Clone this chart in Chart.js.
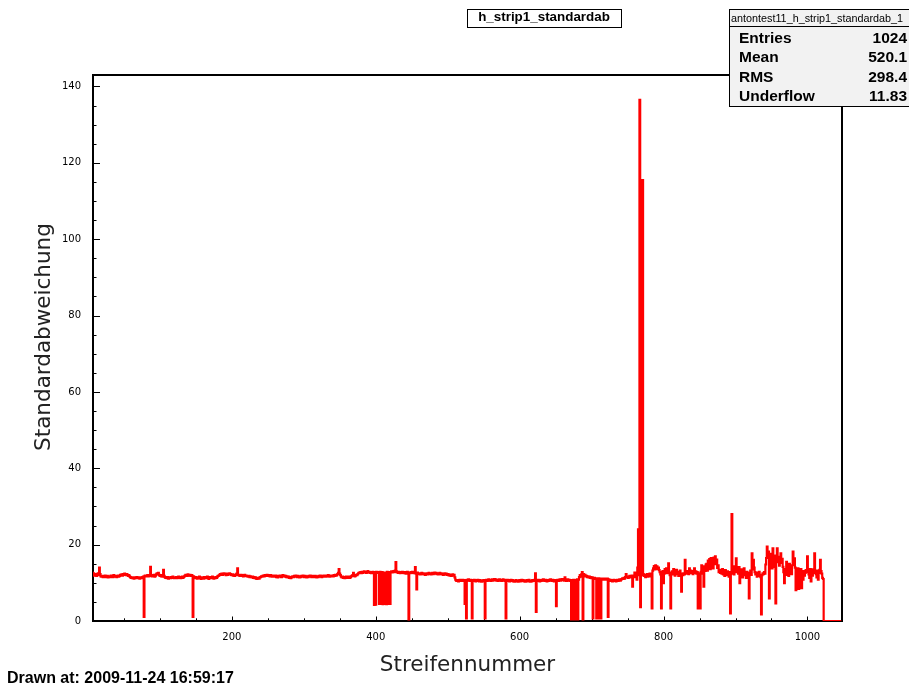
<!DOCTYPE html>
<html>
<head>
<meta charset="utf-8">
<script src="https://cdn.jsdelivr.net/npm/chart.js@4.4.1/dist/chart.umd.min.js"></script>
<style>
  html, body { margin: 0; padding: 0; background: #fff; }
  canvas { display: block; }
</style>
</head>
<body>
<canvas id="myChart" width="909" height="686"></canvas>
<script>
// Standardabweichung per strip (bin 0 .. 1047)
var values = [
 12.4,12.6,12.2,12.8,12.5,12.3,12.7,12.1,12.5,11.9,12.3,12.0,11.8,12.2,12.5,12.0,14.0,12.3,11.7,11.6,
 11.8,11.5,11.7,11.6,11.9,11.5,11.7,11.8,11.4,11.6,11.7,11.5,11.9,11.6,11.8,11.5,12.0,11.7,11.6,11.8,
 11.5,11.7,11.9,11.6,11.8,12.1,12.0,12.2,11.9,12.3,12.1,12.4,12.2,12.0,12.3,12.1,11.8,12.0,11.7,11.5,
 11.3,11.4,11.2,11.3,11.1,11.4,11.2,11.3,11.5,11.2,11.4,11.3,11.1,11.3,11.4,11.2,11.5,11.6,1.1,11.8,
 11.9,11.7,11.8,12.0,11.7,11.9,11.8,14.2,11.9,11.7,12.0,11.8,12.1,11.6,11.9,12.2,12.5,12.4,12.6,12.1,
 11.8,12.0,11.7,11.9,11.6,13.4,11.8,11.5,11.3,11.4,11.2,11.5,11.1,11.3,11.4,11.2,11.5,11.3,11.6,11.4,
 11.2,11.4,11.3,11.5,11.2,11.4,11.6,11.3,11.5,11.2,11.4,11.6,11.3,11.5,11.7,11.9,12.1,12.0,11.8,12.2,
 12.0,11.9,12.1,11.8,12.0,11.9,1.1,11.7,11.4,11.2,11.5,11.3,11.1,11.4,11.2,11.6,11.3,11.0,11.2,11.4,
 11.3,11.1,11.5,11.2,11.4,11.3,11.6,11.2,11.0,11.3,11.5,11.2,11.4,11.6,11.3,11.1,11.4,11.2,11.5,11.3,
 11.6,11.8,11.9,12.1,12.3,12.2,12.4,12.1,12.3,12.5,12.2,12.4,12.0,12.3,12.1,12.4,12.2,12.5,12.3,12.1,
 12.0,12.2,11.9,12.1,11.8,12.0,12.2,12.4,13.8,12.1,11.9,12.0,11.8,12.1,11.9,12.0,11.7,11.9,12.1,11.8,
 11.9,11.7,11.8,11.6,11.8,11.5,11.7,11.6,11.4,11.6,11.3,11.5,11.2,11.4,11.1,11.0,11.2,11.3,11.1,11.4,
 11.5,11.7,11.6,11.8,11.9,11.7,12.0,11.8,11.9,12.1,11.8,12.0,11.9,11.7,12.0,11.8,11.6,11.9,11.7,11.8,
 11.6,11.9,11.5,11.7,11.4,11.8,11.6,11.9,11.7,11.5,11.8,12.0,11.7,11.9,11.6,11.8,11.5,11.7,11.4,11.6,
 11.3,11.5,11.2,11.4,11.6,11.7,11.5,11.8,11.6,11.9,11.7,11.5,11.8,11.6,11.4,11.7,11.5,11.8,11.6,11.9,
 11.7,11.5,11.8,11.6,11.4,11.7,11.5,11.8,11.6,11.9,11.7,11.5,11.8,11.6,11.7,11.5,11.8,11.6,11.4,11.7,
 11.5,11.8,11.6,11.9,11.7,11.5,11.8,11.6,11.9,11.7,11.8,11.6,11.9,11.7,12.0,11.8,11.6,11.9,11.7,11.8,
 11.9,11.7,12.0,11.8,12.1,11.9,12.0,12.3,12.6,13.6,12.4,12.0,11.6,11.4,11.6,11.3,11.5,11.2,11.4,11.6,
 11.3,11.5,11.4,11.6,11.3,11.5,11.7,11.8,12.0,12.6,11.9,11.7,11.9,12.1,12.0,12.3,12.5,12.7,12.6,12.8,
 12.5,12.9,12.6,12.8,13.0,12.7,12.9,12.6,12.8,13.1,12.7,12.9,12.6,12.8,12.5,12.7,12.9,12.6,4.2,12.8,
 4.3,12.9,12.6,12.8,12.7,4.5,12.9,4.6,4.5,12.8,4.4,4.6,12.7,4.5,4.6,4.4,12.9,4.5,4.6,12.8,
 4.5,12.8,13.0,12.7,12.9,13.1,12.8,13.2,15.4,13.0,12.8,12.6,12.9,12.7,12.5,12.8,12.6,12.9,12.7,12.5,
 12.8,12.6,12.4,12.7,12.9,12.6,0.4,12.7,12.5,12.8,12.6,12.9,12.7,12.5,12.6,14.1,12.4,8.3,12.7,12.5,
 12.3,12.5,12.2,12.4,12.6,12.3,12.5,12.2,12.4,12.1,12.3,12.5,12.2,12.4,12.6,12.3,12.5,12.2,12.4,12.6,
 12.3,12.5,12.7,12.4,12.6,12.3,12.5,12.2,12.4,12.6,12.3,12.5,12.2,12.4,12.1,12.3,12.5,12.2,12.4,12.1,
 12.3,12.0,12.2,11.9,12.1,11.8,12.0,12.2,11.9,12.1,11.4,10.8,10.6,10.5,10.7,10.4,10.6,10.8,10.5,10.7,
 10.6,10.8,10.5,10.7,4.5,10.6,0.7,10.8,10.6,10.9,10.7,10.5,10.8,10.6,0.7,10.7,10.5,10.8,10.6,10.4,
 10.7,10.5,10.8,10.6,10.4,10.7,10.5,10.3,10.6,10.4,10.7,10.5,0.7,10.6,10.8,10.5,10.7,10.9,10.6,10.8,
 10.5,10.7,10.9,10.6,10.8,11.0,10.7,10.9,10.6,10.8,10.5,10.7,10.9,10.6,10.8,10.5,10.7,10.9,10.6,10.8,
 10.5,0.7,10.6,10.8,10.5,10.7,10.4,10.6,10.8,10.5,10.7,10.4,10.6,10.3,10.5,10.7,10.4,10.6,10.3,10.5,
 10.7,10.4,10.6,10.8,10.5,10.7,10.4,10.6,10.3,10.5,10.7,10.4,10.6,10.8,10.5,10.3,10.6,10.4,10.7,10.5,
 10.6,10.8,12.5,2.4,10.7,10.5,10.8,10.6,10.4,10.7,10.5,10.8,10.6,10.9,10.7,10.5,10.8,10.6,10.4,10.7,
 10.5,10.8,10.6,10.9,10.7,10.5,10.8,10.6,10.4,10.7,10.5,3.9,10.6,10.8,10.5,10.7,10.9,10.6,10.8,11.0,
 10.7,10.9,10.6,11.4,10.8,10.5,10.7,10.9,10.6,10.8,10.5,10.7,0.4,10.6,0.4,10.8,0.4,0.4,10.7,0.4,
 10.9,0.4,10.8,11.5,12.0,11.6,12.2,12.8,0.4,12.3,11.9,12.1,11.7,11.8,11.5,11.7,11.4,11.6,11.3,11.5,
 11.2,11.4,0.7,11.1,11.3,11.0,11.2,0.7,11.1,10.9,11.2,0.7,11.0,0.7,11.1,10.8,11.0,10.9,11.1,10.8,
 11.0,10.8,11.1,1.1,10.9,10.6,10.8,10.5,10.7,10.4,10.6,10.8,10.5,10.7,10.4,10.6,10.8,10.5,10.7,10.9,
 10.6,10.8,11.0,11.2,11.0,11.3,11.1,11.5,12.3,11.4,11.6,11.3,11.5,11.8,11.4,11.6,11.9,9.0,11.5,11.8,
 12.7,11.5,12.0,10.8,14.0,24.0,12.0,136.5,3.6,12.0,115.5,115.5,12.3,11.8,12.0,11.5,11.8,12.3,11.6,12.1,
 11.9,12.4,11.7,12.2,3.3,13.2,13.8,14.4,13.5,14.6,13.9,14.3,13.6,14.0,13.3,12.8,12.2,3.3,12.6,13.1,
 9.9,12.4,13.6,12.9,13.8,12.5,13.2,15.1,12.7,12.0,3.3,12.4,13.0,12.2,13.6,12.6,11.9,12.8,13.4,12.3,
 12.9,11.8,12.6,13.2,12.4,7.7,12.3,12.0,12.5,12.2,16.0,12.6,13.1,12.4,12.9,12.3,13.8,12.7,13.2,12.5,
 12.9,12.3,13.1,13.8,12.6,13.0,12.4,12.8,3.3,12.5,3.3,3.3,12.9,14.6,12.4,13.2,9.0,14.3,13.1,14.8,
 15.0,13.2,15.8,14.1,16.2,13.6,16.5,14.4,15.9,13.8,16.6,14.9,16.9,15.3,16.1,13.9,14.6,12.8,13.4,12.6,
 13.1,12.4,13.6,12.2,12.9,11.8,13.3,12.5,12.0,13.0,12.3,11.6,12.8,2.0,12.6,28.0,12.4,13.6,12.2,14.3,
 13.1,16.4,12.8,13.7,12.4,14.1,9.9,12.9,13.5,12.2,11.4,12.8,13.8,12.0,12.6,11.3,12.9,11.7,12.4,5.9,
 12.6,13.2,12.1,17.7,13.5,16.0,14.0,12.8,12.2,12.7,11.6,12.5,11.8,12.9,12.1,11.5,1.7,12.0,12.5,12.3,
 12.8,12.4,14.8,16.5,19.5,17.2,18.2,5.9,16.0,15.1,17.6,13.8,19.0,16.2,14.2,17.1,4.6,15.4,19.0,15.8,
 16.0,14.5,16.8,17.7,15.2,16.3,14.2,12.8,9.9,13.6,12.4,15.5,12.1,14.3,11.8,15.0,12.6,13.9,12.3,14.6,
 18.2,15.1,16.4,14.0,8.1,13.2,11.5,13.8,8.4,12.9,9.5,13.6,8.6,12.4,10.8,13.1,11.9,12.6,13.3,12.8,
 16.9,13.4,12.2,11.3,13.6,10.4,12.8,11.9,13.5,12.6,17.7,13.0,12.3,11.4,13.2,10.8,12.6,13.4,16.0,13.1,
 12.4,11.3,11.0,0,0,0,0,0,0,0,0,0,0,0,0,0,0,0,0,0,
 0,0,0,0,0,0,0,0
]
var stripNumbers = values.map(function (v, i) { return i })

var xTicks = [200, 400, 600, 800, 1000]
var yTicks = [0, 20, 40, 60, 80, 100, 120, 140]

var histTitle = 'h_strip1_standardab'
var statsHeader = 'antontest11_h_strip1_standardab_1'
var statNames = ['Entries', 'Mean', 'RMS', 'Underflow']
var statValues = ['1024', '520.1', '298.4', '11.83']
var drawnAt = 'Drawn at: 2009-11-24 16:59:17'

// ROOT style: white canvas, frame, ticks inside the frame, boxes and texts
var rootDecor = {
  id: 'rootDecor',
  beforeDraw: function (chart) {
    var ctx = chart.ctx
    ctx.save()
    ctx.fillStyle = '#fff'
    ctx.fillRect(0, 0, chart.width, chart.height)
    ctx.restore()
  },
  beforeDatasetsDraw: function (chart) {
    var ctx = chart.ctx, a = chart.chartArea
    var xs = chart.scales.x, ys = chart.scales.y
    ctx.save()
    ctx.strokeStyle = '#000'
    ctx.lineWidth = 2
    ctx.strokeRect(a.left, a.top, a.right - a.left, a.bottom - a.top)

    ctx.lineWidth = 1
    ctx.beginPath()
    // y ticks: major every 20, minor every 5
    for (var v = 0; v <= ys.max; v += 5) {
      var py = Math.round(ys.getPixelForValue(v)) + 0.5
      var len = (v % 20 === 0) ? 7 : 3.5
      ctx.moveTo(a.left, py)
      ctx.lineTo(a.left + len, py)
    }
    // x ticks: major every 200, minor every 50
    for (var u = 50; u <= xs.max; u += 50) {
      if (u < xs.min) continue
      var px = Math.round(xs.getPixelForValue(u)) + 0.5
      var l2 = (u % 200 === 0) ? 4.5 : 2.7
      ctx.moveTo(px, a.bottom)
      ctx.lineTo(px, a.bottom - l2)
    }
    ctx.stroke()
    ctx.restore()
  },
  afterDraw: function (chart) {
    var ctx = chart.ctx
    ctx.save()
    ctx.fillStyle = '#000'
    ctx.strokeStyle = '#000'

    // y axis title
    ctx.save()
    ctx.translate(50, 337)
    ctx.rotate(-Math.PI / 2)
    ctx.font = '21.5px "DejaVu Sans"'
    ctx.fillStyle = '#222'
    ctx.textAlign = 'center'
    ctx.textBaseline = 'alphabetic'
    ctx.fillText('Standardabweichung', 0, 0)
    ctx.restore()

    // title box
    ctx.lineWidth = 1
    ctx.fillStyle = '#fff'
    ctx.fillRect(467, 9, 154, 18)
    ctx.strokeRect(467.5, 9.5, 154, 18)
    ctx.fillStyle = '#000'
    ctx.font = 'bold 13.4px "Liberation Sans"'
    ctx.textAlign = 'center'
    ctx.fillText(histTitle, 544, 21)

    // stats box
    ctx.fillStyle = '#f2f2f2'
    ctx.fillRect(729, 9, 190, 97)
    ctx.strokeRect(729.5, 9.5, 190, 97)
    ctx.beginPath()
    ctx.moveTo(729, 26.5)
    ctx.lineTo(909, 26.5)
    ctx.stroke()
    ctx.fillStyle = '#000'
    ctx.font = '10.8px "Liberation Sans"'
    ctx.textAlign = 'left'
    ctx.fillText(statsHeader, 731, 22)
    ctx.font = 'bold 15.5px "Liberation Sans"'
    var rowY = [42.5, 62, 81.5, 100.5]
    for (var i = 0; i < statNames.length; i++) {
      ctx.textAlign = 'left'
      ctx.fillText(statNames[i], 739, rowY[i])
      ctx.textAlign = 'right'
      ctx.fillText(statValues[i], 907, rowY[i])
    }

    // date stamp
    ctx.textAlign = 'left'
    ctx.font = 'bold 16px "Liberation Sans"'
    ctx.fillText(drawnAt, 7, 683)
    ctx.restore()
  }
}

var ctx = document.getElementById('myChart').getContext('2d')
var chart = new Chart(ctx, {
  type: 'line',
  data: {
    datasets: [{
      label: histTitle,
      data: stripNumbers.map(function (x, i) { return { x: x, y: values[i] } }),
      borderColor: '#ff0000',
      borderWidth: 2.2,
      pointRadius: 0,
      stepped: 'middle',
      fill: false
    }]
  },
  options: {
    responsive: false,
    animation: false,
    devicePixelRatio: 1,
    layout: { padding: { left: 0, right: 67, top: 75, bottom: 0 } },
    plugins: { legend: { display: false }, tooltip: { enabled: false } },
    scales: {
      x: {
        type: 'linear',
        min: 7,
        max: 1048,
        grid: { display: false, drawTicks: false },
        border: { display: false },
        afterFit: function (s) { s.height = 65 },
        afterBuildTicks: function (s) { s.ticks = xTicks.map(function (v) { return { value: v } }) },
        ticks: {
          color: '#000',
          padding: 10,
          maxRotation: 0,
          autoSkip: false,
          font: { family: 'DejaVu Sans', size: 10 },
          callback: function (v) { return String(v) }
        },
        title: {
          display: true,
          text: 'Streifennummer',
          color: '#222',
          font: { family: 'DejaVu Sans', size: 21.5 },
          padding: { top: 0, bottom: 8 }
        }
      },
      y: {
        min: 0,
        max: 143,
        grid: { display: false, drawTicks: false },
        border: { display: false },
        afterFit: function (s) { s.width = 93 },
        afterBuildTicks: function (s) { s.ticks = yTicks.map(function (v) { return { value: v } }) },
        ticks: {
          color: '#000',
          padding: 12,
          autoSkip: false,
          font: { family: 'DejaVu Sans', size: 10 },
          callback: function (v) { return String(v) }
        }
      }
    }
  },
  plugins: [rootDecor]
})
</script>
</body>
</html>
